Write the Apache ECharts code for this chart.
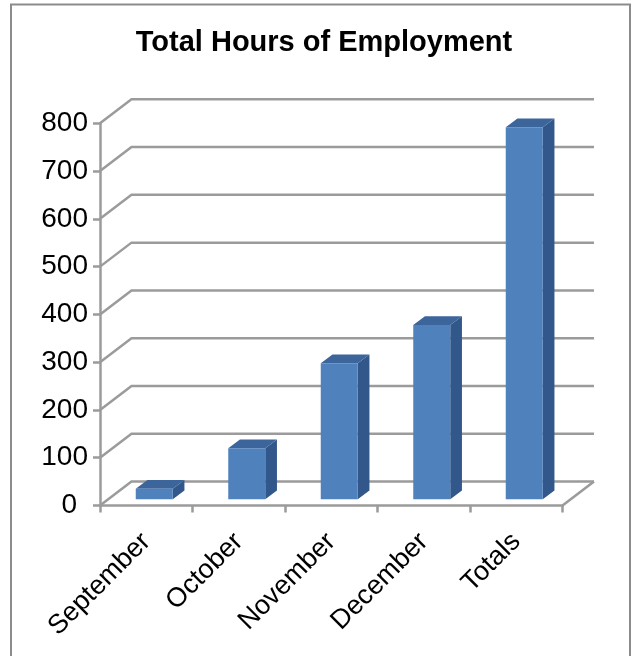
<!DOCTYPE html>
<html>
<head>
<meta charset="utf-8">
<script src="https://cdn.jsdelivr.net/npm/echarts@6/dist/echarts.min.js"></script>
<style>
  html, body { margin: 0; padding: 0; background: #fff; }
  #chart { width: 632px; height: 656px; }
</style>
</head>
<body>
<div id="chart"></div>
<script>
// Hours worked per month, plus the overall total
const categories = ['September', 'October', 'November', 'December', 'Totals'];
const hours = [22, 107, 285, 365, 779];
const valueTicks = [0, 100, 200, 300, 400, 500, 600, 700, 800];

const FONT = '"Liberation Sans", Arial, sans-serif';
const GRID_COLOR = '#9b9b9b';

// Oblique depth of the floor / back wall, in pixels
const WALL_DX = 31.5, WALL_DY = 24;
// Bar placement inside that depth
const BAR_FRONT_DX = 8, BAR_FRONT_DY = 6.2;
const BAR_DEPTH_DX = 11.7, BAR_DEPTH_DY = 8.7;

const chart = echarts.init(document.getElementById('chart'), null, { renderer: 'canvas' });

function renderWall(params, api) {
  const cs = params.coordSys;
  const v = api.value(1);
  const y = api.coord([0, v])[1];
  const left = cs.x, right = cs.x + cs.width;
  const children = [{
    type: 'polyline',
    shape: { points: [[left, y], [left + WALL_DX, y - WALL_DY], [right + WALL_DX, y - WALL_DY]] },
    style: { stroke: GRID_COLOR, lineWidth: 2.5, fill: null }
  }];
  if (v === 0) {
    children.push({
      type: 'line',
      shape: { x1: right, y1: y, x2: right + WALL_DX, y2: y - WALL_DY },
      style: { stroke: GRID_COLOR, lineWidth: 2.5 }
    });
  }
  return { type: 'group', children };
}

function renderBar(params, api) {
  const i = api.value(0);
  const v = api.value(1);
  const base = api.coord([i, 0]);
  const top = api.coord([i, v]);
  const bw = api.size([1, 0])[0] * 0.4;
  const x0 = base[0] + BAR_FRONT_DX - bw / 2;
  const x1 = x0 + bw;
  const yb = base[1] - BAR_FRONT_DY;
  const yt = top[1] - BAR_FRONT_DY;
  const dx = BAR_DEPTH_DX, dy = BAR_DEPTH_DY;
  return {
    type: 'group',
    children: [
      { type: 'polygon', shape: { points: [[x1, yt], [x1 + dx, yt - dy], [x1 + dx, yb - dy], [x1, yb]] },
        style: { fill: '#32578a' } },
      { type: 'polygon', shape: { points: [[x0, yt], [x0 + dx, yt - dy], [x1 + dx, yt - dy], [x1, yt]] },
        style: { fill: '#3c659c' } },
      { type: 'rect', shape: { x: x0, y: yt, width: bw, height: yb - yt },
        style: { fill: '#4f81bd' } }
    ]
  };
}

chart.setOption({
  animation: false,
  backgroundColor: '#fff',
  title: {
    text: 'Total Hours of Employment',
    left: 319,
    top: 23,
    textAlign: 'center',
    textStyle: { fontFamily: FONT, fontSize: 29, fontWeight: 'bold', color: '#000' }
  },
  graphic: [{
    type: 'rect',
    shape: { x: 11, y: 4.5, width: 619, height: 700 },
    style: { fill: null, stroke: '#8c8c8c', lineWidth: 2 },
    z: -10
  }],
  grid: { left: 100, right: 69.5, top: 123.3, bottom: 150.5 },
  xAxis: {
    type: 'category',
    data: categories,
    boundaryGap: true,
    axisLine: { show: true, lineStyle: { color: GRID_COLOR, width: 2.5 } },
    axisTick: { show: true, length: 7, interval: 0, lineStyle: { color: GRID_COLOR, width: 2.5 } },
    axisLabel: {
      interval: 0, rotate: 45, margin: 32,
      fontFamily: FONT, fontSize: 27, color: '#000'
    },
    splitLine: { show: false }
  },
  yAxis: {
    type: 'value',
    min: 0,
    max: 800,
    interval: 100,
    axisLine: { show: true, lineStyle: { color: GRID_COLOR, width: 2.5 } },
    axisTick: { show: true, length: 7, lineStyle: { color: GRID_COLOR, width: 2.5 } },
    axisLabel: {
      margin: 12,
      fontFamily: FONT,
      fontSize: 28,
      color: '#000',
      // the zero label sits a little further out, clear of the floor corner
      formatter: v => (v === 0 ? '{zero|0}' : String(v)),
      rich: { zero: { fontFamily: FONT, fontSize: 28, color: '#000', padding: [0, 11, 0, 0] } }
    },
    splitLine: { show: false }
  },
  series: [
    {
      type: 'custom',
      name: 'walls',
      renderItem: renderWall,
      data: valueTicks.map(v => [0, v]),
      z: 1,
      silent: true
    },
    {
      type: 'custom',
      name: 'Hours',
      renderItem: renderBar,
      data: hours.map((v, i) => [i, v]),
      encode: { x: 0, y: 1 },
      z: 2
    }
  ]
});
</script>
</body>
</html>
